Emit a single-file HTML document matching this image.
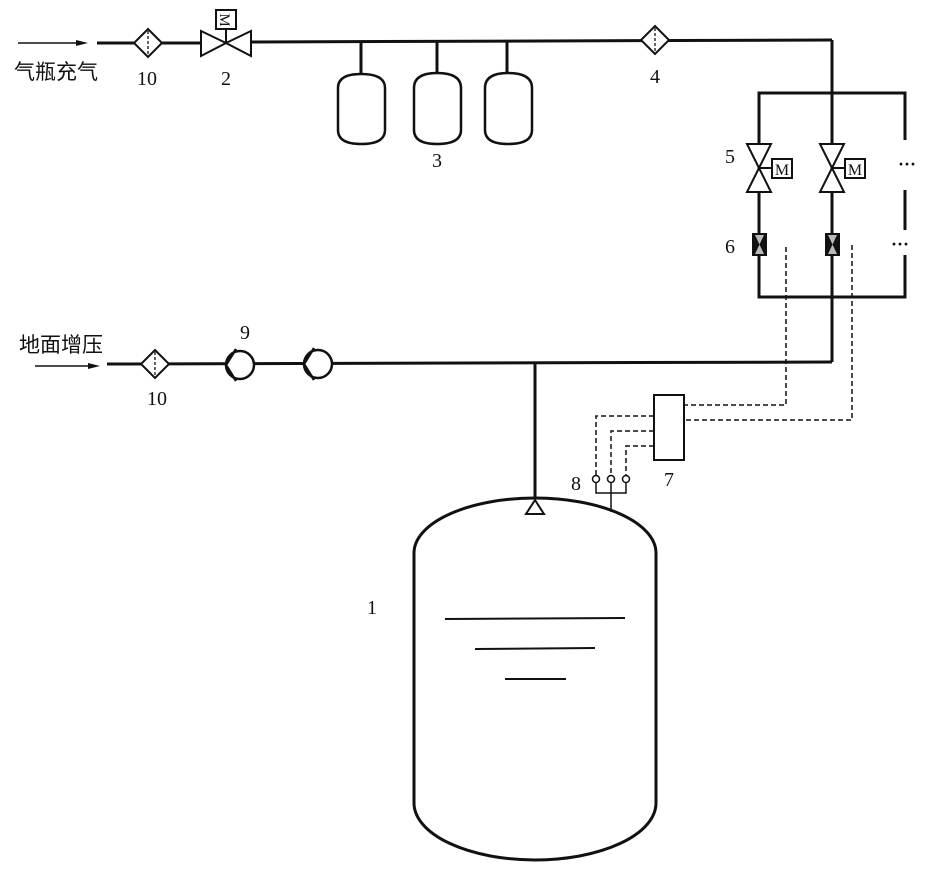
<!DOCTYPE html>
<html><head><meta charset="utf-8"><style>
html,body{margin:0;padding:0;background:#fff;}
svg{display:block;}
text{font-family:"Liberation Serif","Noto Serif CJK SC",serif;font-size:20px;fill:#111;}
.cjk{font-family:"Liberation Sans","Noto Sans CJK SC",sans-serif;font-size:21px;}
</style></head><body>
<svg width="928" height="870" viewBox="0 0 928 870" xmlns="http://www.w3.org/2000/svg">
<g stroke="#111" fill="none" stroke-width="3">
<line x1="97" y1="43" x2="200" y2="43"/>
<line x1="250" y1="42" x2="832" y2="40"/>
<line x1="832" y1="40" x2="832" y2="362"/>
<line x1="361" y1="42" x2="361" y2="73"/>
<line x1="437" y1="42" x2="437" y2="73"/>
<line x1="507" y1="42" x2="507" y2="73"/>
<path d="M338,88 Q338,74 361,74 Q385,74 385,88 L385,130 Q385,144 361,144 Q338,144 338,130 Z" stroke-width="2.5"/>
<path d="M414,88 Q414,73 437,73 Q461,73 461,88 L461,130 Q461,144 437,144 Q414,144 414,130 Z" stroke-width="2.5"/>
<path d="M485,88 Q485,73 508,73 Q532,73 532,88 L532,130 Q532,144 508,144 Q485,144 485,130 Z" stroke-width="2.5"/>
<polyline points="759,172 759,93 905,93 905,140"/>
<line x1="905" y1="190" x2="905" y2="230"/>
<polyline points="905,255 905,297 759,297 759,192"/>
<line x1="832" y1="192" x2="832" y2="297"/>
<line x1="107" y1="364" x2="832" y2="362"/>
<line x1="535" y1="364" x2="535" y2="498"/>
<path d="M414,553 A121,55 0 0 1 656,553 L656,803 A121,57 0 0 1 414,803 Z"/>
</g>
<g stroke="#111" fill="none" stroke-width="2">
<line x1="445" y1="619" x2="625" y2="618"/>
<line x1="475" y1="649" x2="595" y2="648"/>
<line x1="505" y1="679" x2="566" y2="679"/>
<polygon points="535,500 526,514 544,514" fill="#fff"/>
<polygon points="148,29 162,43 148,57 134,43" fill="#fff"/>
<polygon points="655,26 669,40 655,54 641,40" fill="#fff"/>
<polygon points="155,350 169,364 155,378 141,364" fill="#fff"/>
</g>
<g stroke="#111" stroke-width="1.3" stroke-dasharray="3,2">
<line x1="148" y1="31" x2="148" y2="55"/>
<line x1="655" y1="28" x2="655" y2="52"/>
<line x1="155" y1="352" x2="155" y2="376"/>
</g>
<g stroke="#111" fill="#fff" stroke-width="2">
<polygon points="201,31 226,43 201,56"/>
<polygon points="251,31 226,43 251,56"/>
<line x1="226" y1="43" x2="226" y2="29"/>
<rect x="216" y="10" width="20" height="19"/>
</g>
<text x="226" y="26" text-anchor="middle" style="font-size:15px" transform="rotate(90 226 20)">M</text>
<g stroke="#111" fill="#fff" stroke-width="2">
<polygon points="747,144 771,144 759,168"/>
<polygon points="747,192 771,192 759,168"/>
<line x1="759" y1="168" x2="772" y2="168"/>
<rect x="772" y="159" width="20" height="19"/>
<polygon points="820,144 844,144 832,168"/>
<polygon points="820,192 844,192 832,168"/>
<line x1="832" y1="168" x2="845" y2="168"/>
<rect x="845" y="159" width="20" height="19"/>
</g>
<text x="782" y="175" text-anchor="middle" style="font-size:16px">M</text>
<text x="855" y="175" text-anchor="middle" style="font-size:16px">M</text>
<g>
<rect x="752" y="233" width="15" height="23" fill="#111"/>
<polygon points="755,235 764,235 759.5,244.5 764,254 755,254 759.5,244.5" fill="#bbb"/>
<rect x="825" y="233" width="15" height="23" fill="#111"/>
<polygon points="828,235 837,235 832.5,244.5 837,254 828,254 832.5,244.5" fill="#bbb"/>
</g>
<text x="898" y="170" style="font-size:18px;font-weight:bold">···</text>
<text x="891" y="250" style="font-size:18px;font-weight:bold">···</text>
<g stroke="#111" fill="#fff" stroke-width="2.5">
<circle cx="240" cy="365" r="14"/>
<polyline points="236,349 226,365 236,381" fill="none"/>
<circle cx="318" cy="364" r="14"/>
<polyline points="314,348 304,364 314,380" fill="none"/>
</g>
<g stroke="#111" fill="none" stroke-width="1.5" stroke-dasharray="5,3">
<polyline points="786,247 786,405 685,405"/>
<polyline points="852,245 852,420 685,420"/>
<polyline points="654,416 596,416 596,475"/>
<polyline points="654,431 611,431 611,475"/>
<polyline points="654,446 626,446 626,475"/>
</g>
<rect x="654" y="395" width="30" height="65" fill="#fff" stroke="#111" stroke-width="2"/>
<g stroke="#111" fill="#fff" stroke-width="1.5">
<circle cx="596" cy="479" r="3.5"/>
<circle cx="611" cy="479" r="3.5"/>
<circle cx="626" cy="479" r="3.5"/>
<polyline points="596,483 596,493 626,493 626,483" fill="none"/>
<line x1="611" y1="483" x2="611" y2="512"/>
</g>
<g stroke="#111" stroke-width="1.5">
<line x1="18" y1="43" x2="84" y2="43"/>
<line x1="35" y1="366" x2="94" y2="366"/>
</g>
<polygon points="88,43 76,40 76,46" fill="#111"/>
<polygon points="100,366 88,363 88,369" fill="#111"/>
<text class="cjk" x="14" y="79">气瓶充气</text>
<text class="cjk" x="19" y="352">地面增压</text>
<text x="147" y="85" text-anchor="middle">10</text>
<text x="226" y="85" text-anchor="middle">2</text>
<text x="437" y="167" text-anchor="middle">3</text>
<text x="655" y="83" text-anchor="middle">4</text>
<text x="730" y="163" text-anchor="middle">5</text>
<text x="730" y="253" text-anchor="middle">6</text>
<text x="245" y="339" text-anchor="middle">9</text>
<text x="157" y="405" text-anchor="middle">10</text>
<text x="669" y="486" text-anchor="middle">7</text>
<text x="576" y="490" text-anchor="middle">8</text>
<text x="372" y="614" text-anchor="middle">1</text>
</svg>
</body></html>
